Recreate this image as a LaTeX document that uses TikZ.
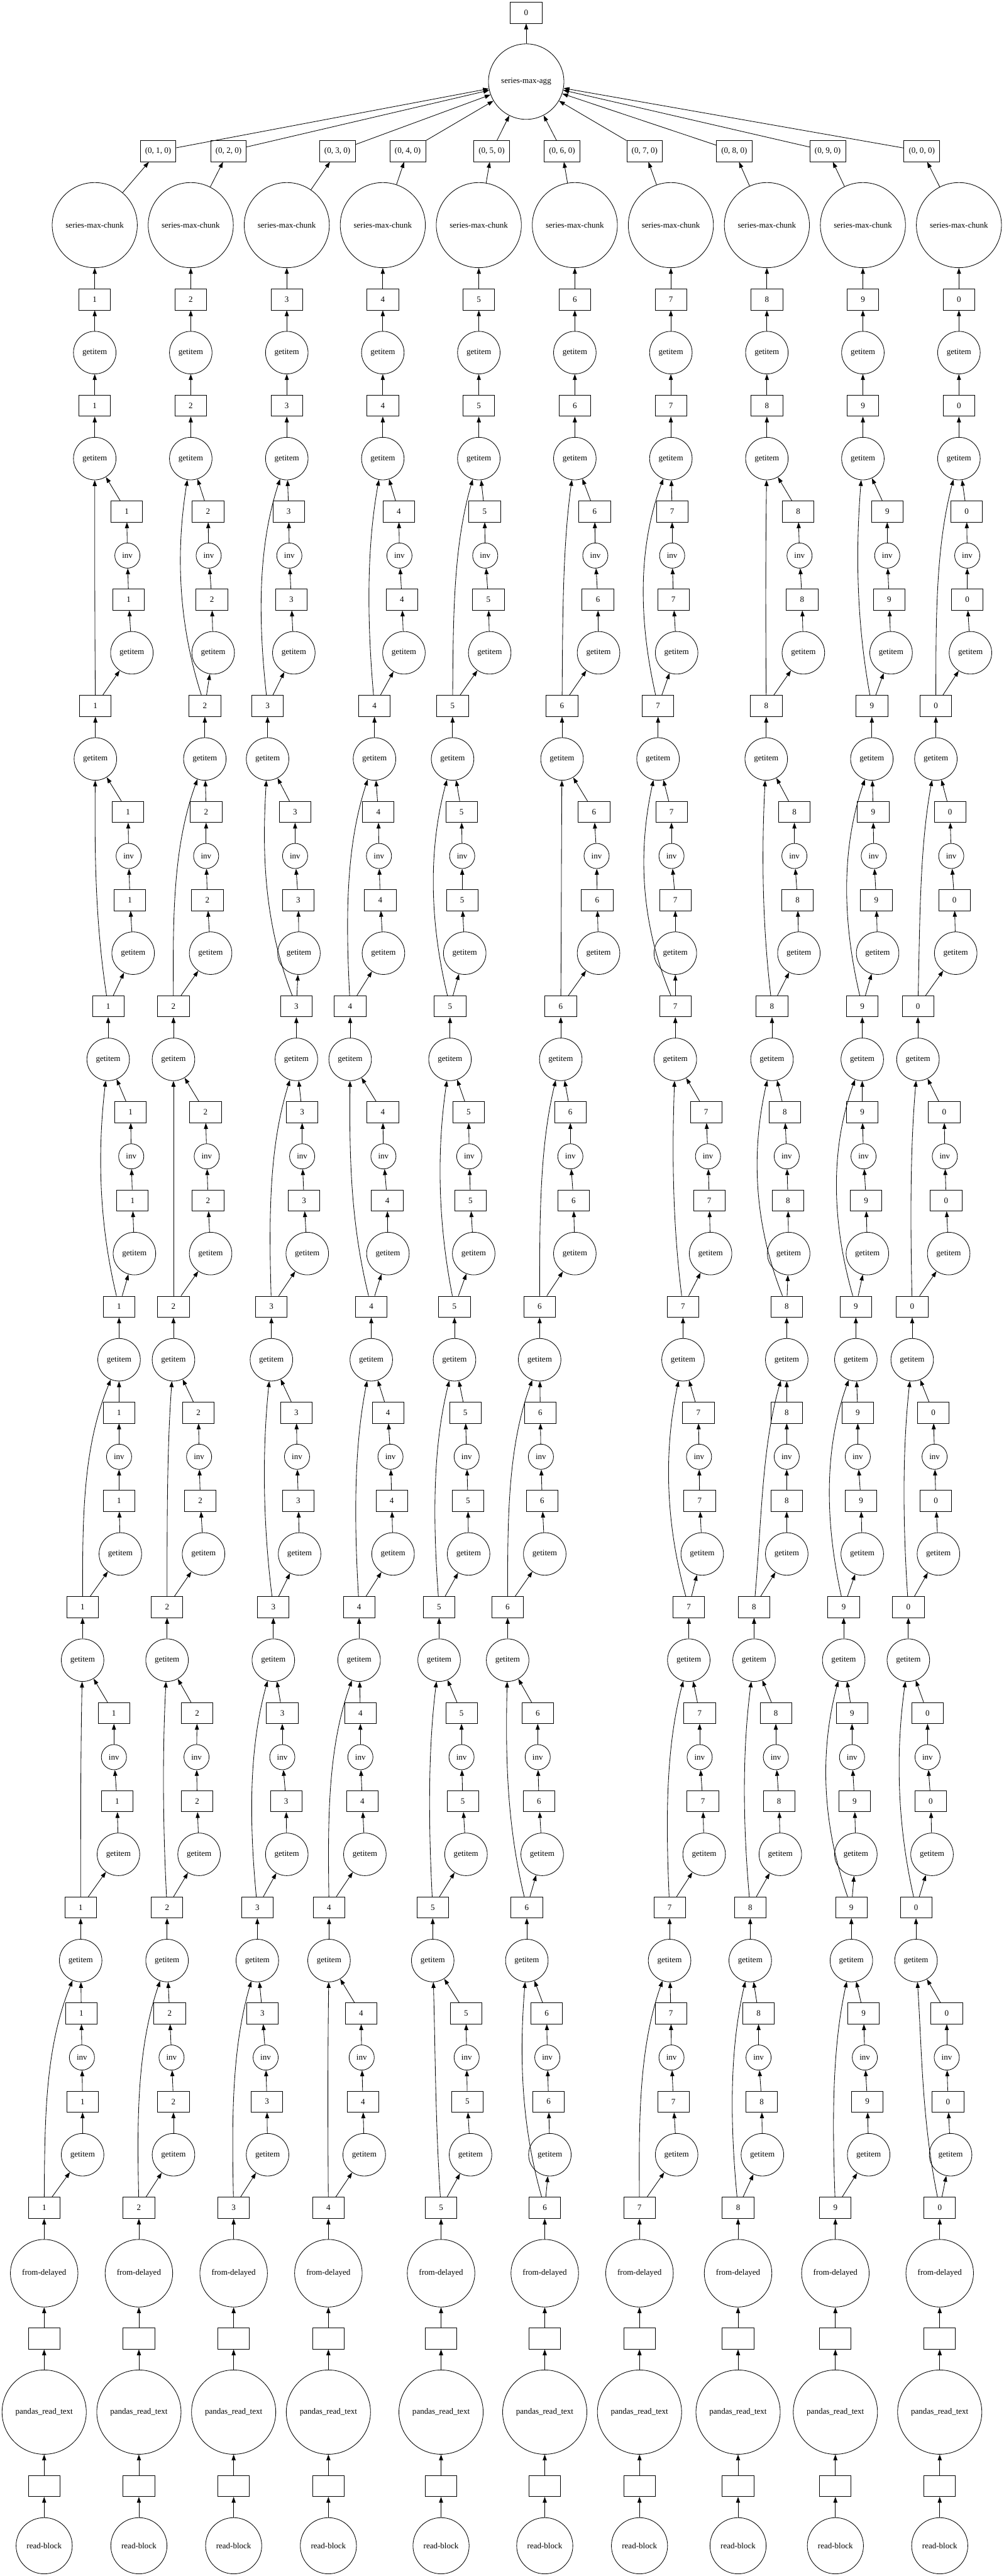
\documentclass[tikz,border=0pt]{standalone}
\usepackage{fontspec}
\setmainfont{Liberation Serif}
\usetikzlibrary{arrows.meta}
\tikzset{
  % --- tasks (functions) ------------------------------------------------------
  task/.style={circle,draw,inner sep=0pt,line width=0.9pt},
  getit/.style={task,minimum size=72.75pt},
  invt/.style={task,minimum size=43pt},
  % --- data keys --------------------------------------------------------------
  part/.style={rectangle,draw,inner sep=0pt,line width=0.9pt,
               minimum width=54pt,minimum height=36pt},
  % --- dependencies -----------------------------------------------------------
  dep/.style={-{Triangle[length=10pt,width=7pt]},line width=0.9pt},
}

\begin{document}
\begin{tikzpicture}[x=1.0944pt, y=-0.75pt, font=\fontsize{14}{16}\selectfont]
  \useasboundingbox (0,0) rectangle (1568,5870);

  % aggregation
  \node[part] (out) at (822,29) {0};
  \node[task,minimum size=129pt] (agg) at (822,186) {series-max-agg};
  \draw[dep] (agg) -- (out);

  % per-partition chunk reduction
  \foreach \c/\kx/\mx in {1/247/148, 2/357/298, 3/527/448, 4/637/598, 5/768/748,
                          6/878/898, 7/1007/1048, 8/1147/1198, 9/1293/1348, 10/1440/1498}{
    \pgfmathtruncatemacro\lbl{mod(\c,10)}
    \node[part,minimum width=61pt] (key\c) at (\kx,344.5) {(0, \lbl, 0)};
    \node[task,minimum size=145.5pt] (smc\c) at (\mx,513) {series-max-chunk};
    \node[part] (t\c-1) at (\mx,682.5) {\lbl};
    \node[getit] (t\c-2) at (\mx,803.5) {getitem};
    \node[part] (t\c-3) at (\mx,924.5) {\lbl};
    \draw[dep] (key\c) -- (agg);
    \draw[dep] (smc\c) -- (key\c);
    \draw[dep] (t\c-1) -- (smc\c);
    \draw[dep] (t\c-2) -- (t\c-1);
    \draw[dep] (t\c-3) -- (t\c-2);
  }

  % getitem / inv cycles: column/cycle/getitem x/box x/side xs/long-edge x
  \foreach \c/\k/\gx/\bx/\sa/\si/\sb/\sg/\mx in {
      1/1/148/149/198/199/201/206/148, 1/2/149/169/200/201/203/208/148,
      1/3/169/186/204/205/207/210/153, 1/4/186/129/186/186/186/188/129,
      1/5/129/126/178/178/183/185/126, 1/6/126/69/127/128/129/129/70,
      2/1/298/320/325/326/331/333/276, 2/2/320/271/322/322/324/329/270,
      2/3/271/271/321/323/325/329/271, 2/4/271/261/310/311/313/318/261,
      2/5/261/261/308/307/308/311/254, 2/6/261/217/265/268/271/271/214,
      3/1/448/418/451/452/455/459/403, 3/2/418/463/461/461/466/467/410,
      3/3/463/424/472/472/475/480/420, 3/4/424/427/463/464/466/468/410,
      3/5/427/402/441/441/447/448/389, 3/6/402/365/410/415/417/418/362,
      4/1/598/585/623/624/628/631/573, 4/2/585/547/591/592/594/599/540,
      4/3/547/580/598/599/605/606/546, 4/4/580/561/606/610/612/614/553,
      4/5/561/514/563/563/566/570/512, 4/6/514/513/564/565/567/569/512,
      5/1/748/707/757/758/763/765/708, 5/2/707/703/721/722/722/726/670,
      5/3/703/710/732/733/735/740/683, 5/4/710/686/727/729/731/732/676,
      5/5/686/676/721/721/723/728/669, 5/6/676/689/728/729/730/735/680,
      6/1/898/878/929/930/934/935/879, 6/2/878/876/928/932/933/935/877,
      6/3/876/843/891/891/896/898/843, 6/4/843/793/844/845/847/851/793,
      6/5/793/823/840/840/842/847/790, 6/6/823/851/854/855/857/859/812,
      7/1/1048/1028/1050/1050/1052/1057/997, 7/2/1028/1055/1049/1049/1055/1055/998,
      7/3/1055/1067/1103/1106/1108/1110/1050, 7/4/1067/1076/1091/1092/1093/1097/1038,
      7/5/1076/1046/1093/1093/1098/1100/1040, 7/6/1046/999/1048/1049/1052/1057/998,
      8/1/1198/1197/1247/1249/1253/1255/1196, 8/2/1197/1206/1241/1241/1246/1248/1190,
      8/3/1206/1229/1226/1229/1231/1232/1175, 8/4/1229/1178/1229/1229/1229/1229/1190,
      8/5/1178/1172/1212/1212/1217/1219/1160, 8/6/1172/1153/1185/1185/1190/1191/1140,
      9/1/1348/1362/1386/1386/1389/1392/1337, 9/2/1362/1347/1364/1365/1369/1371/1315,
      9/3/1347/1337/1347/1349/1353/1355/1298, 9/4/1337/1318/1340/1340/1345/1347/1288,
      9/5/1318/1330/1331/1331/1335/1337/1282, 9/6/1330/1305/1349/1351/1355/1357/1300,
      10/1/1498/1462/1510/1511/1511/1516/1462, 10/2/1462/1434/1484/1486/1491/1493/1437,
      10/3/1434/1425/1475/1476/1478/1482/1422, 10/4/1425/1419/1458/1460/1462/1466/1410,
      10/5/1419/1431/1449/1449/1454/1456/1400, 10/6/1431/1468/1479/1479/1481/1485/1440}{
    \pgfmathtruncatemacro\lbl{mod(\c,10)}
    \pgfmathsetmacro\yg{1045+684.5*(\k-1)}
    \node[getit] (g\c-\k)  at (\gx,\yg)       {getitem};
    \node[part]  (sa\c-\k) at (\sa,\yg+120.5) {\lbl};
    \node[invt]  (si\c-\k) at (\si,\yg+221)   {inv};
    \node[part]  (sb\c-\k) at (\sb,\yg+321.5) {\lbl};
    \node[getit] (sg\c-\k) at (\sg,\yg+442.5) {getitem};
    \node[part]  (b\c-\k)  at (\bx,\yg+563.5) {\lbl};
    \draw[dep] (sa\c-\k) -- (g\c-\k);
    \draw[dep] (si\c-\k) -- (sa\c-\k);
    \draw[dep] (sb\c-\k) -- (si\c-\k);
    \draw[dep] (sg\c-\k) -- (sb\c-\k);
    \draw[dep] (b\c-\k) -- (sg\c-\k);
    \draw[dep] (b\c-\k) .. controls (\mx,\yg+363.5) and (\mx,\yg+200) .. (g\c-\k);
  }

  % links between cycles
  \foreach \c in {1,...,10}{
    \draw[dep] (g\c-1) -- (t\c-3);
    \foreach \k in {2,...,6}{
      \pgfmathtruncatemacro\km{\k-1}
      \draw[dep] (g\c-\k) -- (b\c-\km);
    }
  }

  % reading the blocks
  \foreach \c/\x in {1/69, 2/217, 3/365, 4/513, 5/689, 6/851, 7/999, 8/1153, 9/1305, 10/1468}{
    \node[task,minimum size=115.5pt] (fd\c) at (\x,5180) {from-delayed};
    \node[part] (e\c-1) at (\x,5329) {};
    \node[task,minimum size=144pt] (prt\c) at (\x,5496.5) {pandas\_read\_text};
    \node[part] (e\c-2) at (\x,5665) {};
    \node[task,minimum size=96pt] (rb\c) at (\x,5801) {read-block};
    \draw[dep] (fd\c) -- (b\c-6);
    \draw[dep] (e\c-1) -- (fd\c);
    \draw[dep] (prt\c) -- (e\c-1);
    \draw[dep] (e\c-2) -- (prt\c);
    \draw[dep] (rb\c) -- (e\c-2);
  }
\end{tikzpicture}
\end{document}
